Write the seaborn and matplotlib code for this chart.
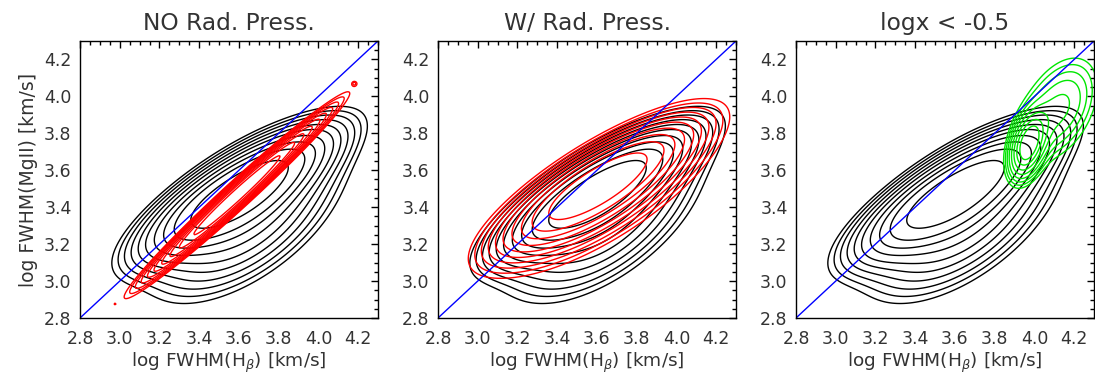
import numpy as np
import matplotlib
matplotlib.use("Agg")
import matplotlib.pyplot as plt
from matplotlib.ticker import MultipleLocator
import seaborn as sns

# ---- panel titles and axis text ----
titles = ["NO Rad. Press.", "W/ Rad. Press.", "logx < -0.5"]
xlabel = "log FWHM(H$_{\\beta}$) [km/s]"
ylabel = "log FWHM(MgII) [km/s]"
axis_range = [2.8, 4.3]
tick_values = [2.8, 3.0, 3.2, 3.4, 3.6, 3.8, 4.0, 4.2]

# ---- density components: x0, y0, angle [deg], sigma major, sigma minor, amplitude ----
full_parts = [[3.60, 3.48, 34.0, 0.285, 0.088, 1.00],
              [3.63, 3.34, 40.0, 0.30, 0.150, 0.30]]
full_levels = [0.03, 0.042, 0.058, 0.08, 0.11, 0.15, 0.21, 0.29, 0.40, 0.60]

rad_parts = [[3.60, 3.52, 34.0, 0.28, 0.082, 1.00],
             [3.63, 3.47, 35.0, 0.33, 0.115, 0.30]]
rad_levels = [0.03, 0.042, 0.058, 0.08, 0.11, 0.15, 0.21, 0.29, 0.40, 0.60]

norad_parts = [[3.59, 3.465, 44.6, 0.30, 0.027, 1.00],
               [4.18, 4.07, 0.0, 0.010, 0.010, 0.035],
               [2.976, 2.876, 0.0, 0.003, 0.003, 0.035]]
norad_levels = [0.03, 0.042, 0.058, 0.08, 0.11, 0.15, 0.21, 0.29, 0.40, 0.60]

lowx_parts = [[3.97, 3.74, 75.0, 0.10, 0.045, 1.00],
              [4.12, 3.93, 65.0, 0.16, 0.090, 0.30]]
lowx_levels = [0.05, 0.075, 0.11, 0.16, 0.24, 0.35, 0.50, 0.68]


def ellip(xx, yy, x0, y0, angle, s_major, s_minor, amp):
    t = np.deg2rad(angle)
    dx, dy = xx - x0, yy - y0
    u = dx * np.cos(t) + dy * np.sin(t)
    v = -dx * np.sin(t) + dy * np.cos(t)
    return amp * np.exp(-0.5 * ((u / s_major) ** 2 + (v / s_minor) ** 2))


gx = np.linspace(2.7, 4.45, 420)
gy = np.linspace(2.7, 4.45, 420)
XX, YY = np.meshgrid(gx, gy)


def density(parts):
    d = sum(ellip(XX, YY, *p) for p in parts)
    return d / d.max()


full = density(full_parts)
rad = density(rad_parts)
norad = density(norad_parts)
lowx = density(lowx_parts)

sns.set_style("white")
plt.rcParams["font.family"] = ["DejaVu Sans"]
plt.rcParams["mathtext.fontset"] = "dejavusans"
text_color = "#333333"

fig = plt.figure(figsize=(10.95, 3.76), dpi=100)
lefts = [80 / 1095, 438 / 1095, 796 / 1095]
axes = [fig.add_axes([l, 58 / 376, 298 / 1095, 277 / 376]) for l in lefts]

overlays = [(norad, norad_levels, "red"), (rad, rad_levels, "red"),
            (lowx, lowx_levels, "#00e600")]

for i, ax in enumerate(axes):
    ax.contour(XX, YY, full, levels=full_levels, colors="black", linewidths=1.0)
    dens, lev, col = overlays[i]
    ax.contour(XX, YY, dens, levels=lev, colors=col, linewidths=1.0)
    sns.lineplot(x=axis_range, y=axis_range, ax=ax, color="blue", linewidth=1.0)

    ax.set_xlim(axis_range)
    ax.set_ylim(axis_range)
    ax.xaxis.set_minor_locator(MultipleLocator(0.05))
    ax.yaxis.set_minor_locator(MultipleLocator(0.05))
    ax.set_xticks(tick_values)
    ax.set_yticks(tick_values)
    ax.set_xticklabels([f"{t:.1f}" for t in tick_values])
    ax.set_yticklabels([f"{t:.1f}" for t in tick_values])
    ax.tick_params(which="both", direction="in", top=True, right=True,
                   color="black", width=1.0, labelsize=12.5, labelcolor=text_color)
    ax.tick_params(axis="x", which="major", length=5, pad=9)
    ax.tick_params(axis="y", which="major", length=5, pad=6)
    ax.tick_params(which="minor", length=3)
    for sp in ax.spines.values():
        sp.set_color("black")
        sp.set_linewidth(1.0)
    ax.set_title(titles[i], fontsize=16.8, color=text_color, pad=8)
    ax.set_xlabel(xlabel, fontsize=13.3, color=text_color, labelpad=2)
    if i == 0:
        ax.set_ylabel(ylabel, fontsize=13.5, color=text_color, labelpad=4)
    else:
        ax.set_ylabel("")

fig.savefig("out.png", dpi=100)
